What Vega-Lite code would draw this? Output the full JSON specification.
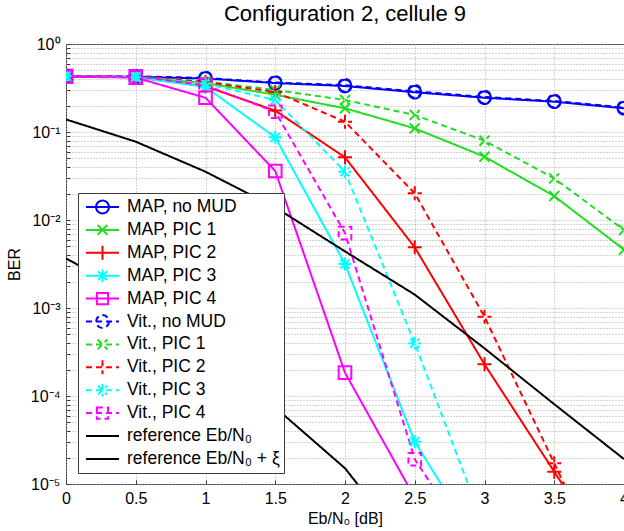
{
  "$schema": "https://vega.github.io/schema/vega-lite/v6.json",
  "width": 558,
  "height": 440,
  "autosize": {"type": "none"},
  "padding": {"left": 66, "top": 44, "right": 0, "bottom": 47},
  "background": "white",
  "title": {"text": "Configuration 2, cellule 9", "font": "Liberation Sans", "fontSize": 22, "fontWeight": "normal", "color": "black", "offset": 10},
  "config": {
    "view": {"stroke": "#3c3c3c", "strokeWidth": 1},
    "axis": {"labelFont": "Liberation Sans", "titleFont": "Liberation Sans", "labelColor": "black", "titleColor": "black", "labelFontSize": 16, "titleFontSize": 16, "titleFontWeight": "normal", "grid": true, "gridColor": "#a8a8a8", "gridDash": [1, 2], "gridWidth": 1, "domain": false, "ticks": true, "tickSize": -4, "tickColor": "#3c3c3c", "tickWidth": 1, "labelFlush": false, "labelOverlap": false, "labelPadding": 10},
    "legend": {"orient": "none", "legendX": 12, "legendY": 149, "fillColor": "white", "strokeColor": "#3c3c3c", "padding": 4, "labelFont": "Liberation Sans", "labelFontSize": 17.5, "labelColor": "black", "symbolSize": 1089, "symbolStrokeWidth": 2, "clipHeight": 20, "rowPadding": 2.9, "labelOffset": 7, "symbolOffset": 3, "labelLimit": 400}
  },
  "data": {"values": [
    {"series": "MAP, no MUD", "x": 0, "y": 0.43}, {"series": "MAP, no MUD", "x": 0.5, "y": 0.425}, {"series": "MAP, no MUD", "x": 1, "y": 0.405}, {"series": "MAP, no MUD", "x": 1.5, "y": 0.36}, {"series": "MAP, no MUD", "x": 2, "y": 0.333}, {"series": "MAP, no MUD", "x": 2.5, "y": 0.283}, {"series": "MAP, no MUD", "x": 3, "y": 0.245}, {"series": "MAP, no MUD", "x": 3.5, "y": 0.221}, {"series": "MAP, no MUD", "x": 4, "y": 0.186},
    {"series": "MAP, PIC 1", "x": 0, "y": 0.43}, {"series": "MAP, PIC 1", "x": 0.5, "y": 0.42}, {"series": "MAP, PIC 1", "x": 1, "y": 0.36}, {"series": "MAP, PIC 1", "x": 1.5, "y": 0.265}, {"series": "MAP, PIC 1", "x": 2, "y": 0.186}, {"series": "MAP, PIC 1", "x": 2.5, "y": 0.11}, {"series": "MAP, PIC 1", "x": 3, "y": 0.0524}, {"series": "MAP, PIC 1", "x": 3.5, "y": 0.0187}, {"series": "MAP, PIC 1", "x": 4, "y": 0.0046},
    {"series": "MAP, PIC 2", "x": 0, "y": 0.43}, {"series": "MAP, PIC 2", "x": 0.5, "y": 0.42}, {"series": "MAP, PIC 2", "x": 1, "y": 0.33}, {"series": "MAP, PIC 2", "x": 1.5, "y": 0.175}, {"series": "MAP, PIC 2", "x": 2, "y": 0.0515}, {"series": "MAP, PIC 2", "x": 2.5, "y": 0.00489}, {"series": "MAP, PIC 2", "x": 3, "y": 0.000229}, {"series": "MAP, PIC 2", "x": 3.5, "y": 0.0000138}, {"series": "MAP, PIC 2", "x": 4, "y": 0.00000083},
    {"series": "MAP, PIC 3", "x": 0, "y": 0.43}, {"series": "MAP, PIC 3", "x": 0.5, "y": 0.42}, {"series": "MAP, PIC 3", "x": 1, "y": 0.325}, {"series": "MAP, PIC 3", "x": 1.5, "y": 0.087}, {"series": "MAP, PIC 3", "x": 2, "y": 0.00316}, {"series": "MAP, PIC 3", "x": 2.5, "y": 0.0000303}, {"series": "MAP, PIC 3", "x": 3, "y": 0.0000016},
    {"series": "MAP, PIC 4", "x": 0, "y": 0.425}, {"series": "MAP, PIC 4", "x": 0.5, "y": 0.415}, {"series": "MAP, PIC 4", "x": 1, "y": 0.245}, {"series": "MAP, PIC 4", "x": 1.5, "y": 0.036}, {"series": "MAP, PIC 4", "x": 2, "y": 0.000184}, {"series": "MAP, PIC 4", "x": 2.5, "y": 0.000007},
    {"series": "Vit., no MUD", "x": 0, "y": 0.435}, {"series": "Vit., no MUD", "x": 0.5, "y": 0.43}, {"series": "Vit., no MUD", "x": 1, "y": 0.41}, {"series": "Vit., no MUD", "x": 1.5, "y": 0.365}, {"series": "Vit., no MUD", "x": 2, "y": 0.34}, {"series": "Vit., no MUD", "x": 2.5, "y": 0.29}, {"series": "Vit., no MUD", "x": 3, "y": 0.25}, {"series": "Vit., no MUD", "x": 3.5, "y": 0.225}, {"series": "Vit., no MUD", "x": 4, "y": 0.19},
    {"series": "Vit., PIC 1", "x": 0, "y": 0.435}, {"series": "Vit., PIC 1", "x": 0.5, "y": 0.425}, {"series": "Vit., PIC 1", "x": 1, "y": 0.375}, {"series": "Vit., PIC 1", "x": 1.5, "y": 0.3}, {"series": "Vit., PIC 1", "x": 2, "y": 0.231}, {"series": "Vit., PIC 1", "x": 2.5, "y": 0.156}, {"series": "Vit., PIC 1", "x": 3, "y": 0.0797}, {"series": "Vit., PIC 1", "x": 3.5, "y": 0.0297}, {"series": "Vit., PIC 1", "x": 4, "y": 0.0077},
    {"series": "Vit., PIC 2", "x": 0, "y": 0.435}, {"series": "Vit., PIC 2", "x": 0.5, "y": 0.425}, {"series": "Vit., PIC 2", "x": 1, "y": 0.37}, {"series": "Vit., PIC 2", "x": 1.5, "y": 0.285}, {"series": "Vit., PIC 2", "x": 2, "y": 0.131}, {"series": "Vit., PIC 2", "x": 2.5, "y": 0.0201}, {"series": "Vit., PIC 2", "x": 3, "y": 0.000797}, {"series": "Vit., PIC 2", "x": 3.5, "y": 0.0000172}, {"series": "Vit., PIC 2", "x": 4, "y": 0.00000037},
    {"series": "Vit., PIC 3", "x": 0, "y": 0.435}, {"series": "Vit., PIC 3", "x": 0.5, "y": 0.425}, {"series": "Vit., PIC 3", "x": 1, "y": 0.355}, {"series": "Vit., PIC 3", "x": 1.5, "y": 0.231}, {"series": "Vit., PIC 3", "x": 2, "y": 0.0354}, {"series": "Vit., PIC 3", "x": 2.5, "y": 0.000397}, {"series": "Vit., PIC 3", "x": 3, "y": 0.0000032},
    {"series": "Vit., PIC 4", "x": 0, "y": 0.435}, {"series": "Vit., PIC 4", "x": 0.5, "y": 0.43}, {"series": "Vit., PIC 4", "x": 1, "y": 0.34}, {"series": "Vit., PIC 4", "x": 1.5, "y": 0.17}, {"series": "Vit., PIC 4", "x": 2, "y": 0.0071}, {"series": "Vit., PIC 4", "x": 2.5, "y": 0.0000191}, {"series": "Vit., PIC 4", "x": 3, "y": 0.0000012},
    {"series": "reference Eb/N₀", "x": 0, "y": 0.139}, {"series": "reference Eb/N₀", "x": 0.5, "y": 0.0776}, {"series": "reference Eb/N₀", "x": 1, "y": 0.0354}, {"series": "reference Eb/N₀", "x": 1.5, "y": 0.0139}, {"series": "reference Eb/N₀", "x": 2, "y": 0.0044}, {"series": "reference Eb/N₀", "x": 2.5, "y": 0.00142}, {"series": "reference Eb/N₀", "x": 3, "y": 0.000348}, {"series": "reference Eb/N₀", "x": 3.5, "y": 0.0000807}, {"series": "reference Eb/N₀", "x": 4, "y": 0.0000192},
    {"series": "reference Eb/N₀ + ξ", "x": 0, "y": 0.00367}, {"series": "reference Eb/N₀ + ξ", "x": 0.5, "y": 0.00132}, {"series": "reference Eb/N₀ + ξ", "x": 1, "y": 0.00037}, {"series": "reference Eb/N₀ + ξ", "x": 1.5, "y": 0.000074}, {"series": "reference Eb/N₀ + ξ", "x": 2, "y": 0.0000151}, {"series": "reference Eb/N₀ + ξ", "x": 2.5, "y": 0.0000015}
  ]},
  "encoding": {
    "x": {"field": "x", "type": "quantitative", "scale": {"domain": [0, 4], "nice": false, "zero": false},
          "axis": {"title": "Eb/N₀ [dB]", "values": [0, 0.5, 1, 1.5, 2, 2.5, 3, 3.5, 4], "format": "~g", "titlePadding": 4}},
    "y": {"field": "y", "type": "quantitative", "scale": {"type": "log", "domain": [0.00001, 1], "nice": false},
          "axis": {"title": "BER", "titlePadding": 8,
                   "values": [0.00001, 0.00002, 0.00003, 0.00004, 0.00005, 0.00006, 0.00007, 0.00008, 0.00009, 0.0001, 0.0002, 0.0003, 0.0004, 0.0005, 0.0006, 0.0007, 0.0008, 0.0009, 0.001, 0.002, 0.003, 0.004, 0.005, 0.006, 0.007, 0.008, 0.009, 0.01, 0.02, 0.03, 0.04, 0.05, 0.06, 0.07, 0.08, 0.09, 0.1, 0.2, 0.3, 0.4, 0.5, 0.6, 0.7, 0.8, 0.9, 1],
                   "labelExpr": "abs(log(datum.value)/LN10 - round(log(datum.value)/LN10)) < 0.001 ? '10' + ['⁰','⁻¹','⁻²','⁻³','⁻⁴','⁻⁵'][-round(log(datum.value)/LN10)] : ''"}},
    "color": {"field": "series", "type": "nominal", "legend": {"title": null},
              "scale": {"domain": ["MAP, no MUD", "MAP, PIC 1", "MAP, PIC 2", "MAP, PIC 3", "MAP, PIC 4", "Vit., no MUD", "Vit., PIC 1", "Vit., PIC 2", "Vit., PIC 3", "Vit., PIC 4", "reference Eb/N₀", "reference Eb/N₀ + ξ"],
                        "range": ["#0000ff", "#22dd22", "#ff0000", "#00ffff", "#ff00ff", "#0000ff", "#22dd22", "#ff0000", "#00ffff", "#ff00ff", "#000000", "#000000"]}},
    "strokeDash": {"field": "series", "type": "nominal", "legend": {"title": null},
              "scale": {"domain": ["MAP, no MUD", "MAP, PIC 1", "MAP, PIC 2", "MAP, PIC 3", "MAP, PIC 4", "Vit., no MUD", "Vit., PIC 1", "Vit., PIC 2", "Vit., PIC 3", "Vit., PIC 4", "reference Eb/N₀", "reference Eb/N₀ + ξ"],
                        "range": [[1, 0], [1, 0], [1, 0], [1, 0], [1, 0], [6, 4], [6, 4], [6, 4], [6, 4], [6, 4], [1, 0], [1, 0]]}}
  },
  "layer": [
    {"mark": {"type": "line", "strokeWidth": 2, "clip": true}},
    {"transform": [{"filter": {"field": "series", "oneOf": ["MAP, no MUD", "Vit., no MUD"]}}],
     "mark": {"type": "point", "shape": "circle", "size": 160, "filled": false, "strokeWidth": 2, "opacity": 1, "clip": true}},
    {"transform": [{"filter": {"field": "series", "oneOf": ["MAP, PIC 1", "Vit., PIC 1"]}}],
     "mark": {"type": "point", "shape": "M-1,-1L1,1M-1,1L1,-1", "size": 100, "filled": false, "strokeWidth": 2, "opacity": 1, "clip": true}},
    {"transform": [{"filter": {"field": "series", "oneOf": ["MAP, PIC 2", "Vit., PIC 2"]}}],
     "mark": {"type": "point", "shape": "M-1,0H1M0,-1V1", "size": 196, "filled": false, "strokeWidth": 2, "opacity": 1, "clip": true}},
    {"transform": [{"filter": {"field": "series", "oneOf": ["MAP, PIC 3", "Vit., PIC 3"]}}],
     "mark": {"type": "point", "shape": "M-1,0H1M0,-1V1M-0.7,-0.7L0.7,0.7M-0.7,0.7L0.7,-0.7", "size": 169, "filled": false, "strokeWidth": 2, "opacity": 1, "clip": true}},
    {"transform": [{"filter": {"field": "series", "oneOf": ["MAP, PIC 4", "Vit., PIC 4"]}}],
     "mark": {"type": "point", "shape": "square", "size": 160, "filled": false, "strokeWidth": 2, "opacity": 1, "clip": true}},
    {"transform": [{"filter": "false"}],
     "mark": {"type": "point", "filled": false, "strokeWidth": 2, "opacity": 1},
     "encoding": {
       "shape": {"field": "series", "type": "nominal", "legend": {"title": null},
                 "scale": {"domain": ["MAP, no MUD", "MAP, PIC 1", "MAP, PIC 2", "MAP, PIC 3", "MAP, PIC 4", "Vit., no MUD", "Vit., PIC 1", "Vit., PIC 2", "Vit., PIC 3", "Vit., PIC 4", "reference Eb/N₀", "reference Eb/N₀ + ξ"],
                           "range": ["M-1,0H1M0.39,0A0.39,0.39,0,1,1,-0.39,0A0.39,0.39,0,1,1,0.39,0", "M-1,0H1M-0.3,-0.3L0.3,0.3M-0.3,0.3L0.3,-0.3", "M-1,0H1M0,-0.42V0.42", "M-1,0H1M0,-0.38V0.38M-0.27,-0.27L0.27,0.27M-0.27,0.27L0.27,-0.27", "M-1,0H1M-0.34,-0.34H0.34V0.34H-0.34Z",
                                     "M-1,0H1M0.39,0A0.39,0.39,0,1,1,-0.39,0A0.39,0.39,0,1,1,0.39,0", "M-1,0H1M-0.3,-0.3L0.3,0.3M-0.3,0.3L0.3,-0.3", "M-1,0H1M0,-0.42V0.42", "M-1,0H1M0,-0.38V0.38M-0.27,-0.27L0.27,0.27M-0.27,0.27L0.27,-0.27", "M-1,0H1M-0.34,-0.34H0.34V0.34H-0.34Z",
                                     "M-1,0H1", "M-1,0H1"]}}
     }}
  ]
}
